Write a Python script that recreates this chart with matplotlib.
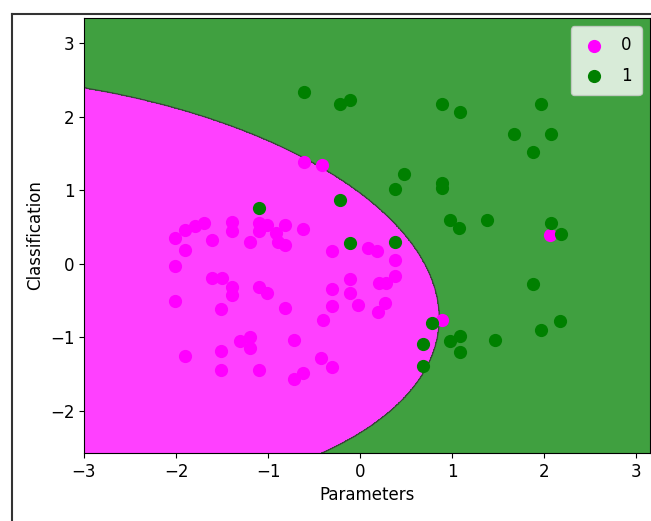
import numpy as np
import matplotlib
matplotlib.use("Agg")
import matplotlib.pyplot as plt
from matplotlib.lines import Line2D

# ---- data ----
class0_x = [-2.01, -1.90, -1.79, -1.70, -1.90, -1.61, -1.39, -1.39, -2.01, -1.20,
            -1.10, -1.01, -1.10, -0.91, -0.82, -0.89, -0.82, -0.62, -1.61, -1.50,
            -1.39, -1.39, -1.10, -1.01, -2.01, -1.51, -0.82, -1.30, -1.20, -1.20,
            -1.90, -1.51, -1.51, -1.10, -0.72, -0.72, -0.62, -0.40, -0.42, -0.31,
            -0.31, 0.09, 0.18, 0.38, 0.38, -0.11, -0.31, -0.11, 0.20, 0.28,
            -0.02, 0.27, 0.19, -0.31, 0.89, -0.61, -0.41, 2.06]
class0_y = [0.35, 0.46, 0.51, 0.55, 0.19, 0.33, 0.57, 0.44, -0.03, 0.30,
            0.55, 0.53, 0.44, 0.42, 0.53, 0.30, 0.26, 0.48, -0.19, -0.19,
            -0.31, -0.42, -0.31, -0.40, -0.51, -0.62, -0.60, -1.05, -0.99, -1.14,
            -1.25, -1.19, -1.44, -1.44, -1.03, -1.57, -1.48, -0.76, -1.28, -1.40,
            0.17, 0.21, 0.17, 0.05, -0.16, -0.20, -0.34, -0.40, -0.26, -0.26,
            -0.56, -0.53, -0.65, -0.57, -0.76, 1.39, 1.34, 0.39]

class1_x = [-1.10, -0.22, -0.11, 0.38, 0.38, 0.48, 0.89, 0.89, 0.98, 1.08,
            1.38, 2.07, 2.18, -0.61, -0.22, -0.11, 0.89, 1.09, 1.97, 1.67,
            2.07, 1.88, 1.88, 2.17, 1.97, 1.47, 0.98, 1.09, 1.09, 0.78,
            0.68, 0.68]
class1_y = [0.76, 0.87, 0.28, 0.29, 1.02, 1.22, 1.10, 1.03, 0.60, 0.49,
            0.60, 0.55, 0.41, 2.33, 2.17, 2.23, 2.17, 2.06, 2.17, 1.76,
            1.76, 1.52, -0.28, -0.78, -0.90, -1.03, -1.05, -0.98, -1.20, -0.81,
            -1.09, -1.39]

# decision boundary points
boundary_x = [-3.0, -2.1, -1.38, -0.87, -0.33, 0.11, 0.33, 0.62, 0.80, 0.84,
              0.80, 0.72, 0.54, 0.18, -0.29, -0.43]
boundary_y = [2.38, 2.18, 1.86, 1.57, 1.22, 0.87, 0.60, 0.23, -0.24, -0.55,
              -1.03, -1.39, -1.75, -2.16, -2.50, -2.57]

class_labels = ['0', '1']
class_colors = ['magenta', 'green']

# ---- figure ----
W, H = 651, 521
fig = plt.figure(figsize=(W / 100, H / 100), dpi=100)
ax = fig.add_axes([84 / W, 1 - 453 / H, (650 - 84) / W, (453 - 18) / H])

xlim = (-3.0, 3.15)
ylim = (-2.57, 3.34)

# fit a conic to the boundary points: a x^2 + b xy + c y^2 + d x + e y = 1
bx = np.array(boundary_x)
by = np.array(boundary_y)
A = np.column_stack([bx ** 2, bx * by, by ** 2, bx, by])
coef, *_ = np.linalg.lstsq(A, np.ones_like(bx), rcond=None)

X1, X2 = np.meshgrid(np.linspace(xlim[0], xlim[1], 800),
                     np.linspace(ylim[0], ylim[1], 800))
F = (coef[0] * X1 ** 2 + coef[1] * X1 * X2 + coef[2] * X2 ** 2
     + coef[3] * X1 + coef[4] * X2)
Z = np.where(F < 1, 0, 1)

ax.contourf(X1, X2, Z, levels=[-0.5, 0.5, 1.5], colors=class_colors, alpha=0.75)
ax.contour(X1, X2, F, levels=[1], colors='#3a3a3a', linewidths=0.9, alpha=0.8)

ax.scatter(class0_x, class0_y, c=class_colors[0], s=72, label=class_labels[0], zorder=3)
ax.scatter(class1_x, class1_y, c=class_colors[1], s=72, label=class_labels[1], zorder=3)

ax.set_xlim(*xlim)
ax.set_ylim(*ylim)
ax.set_xticks([-3, -2, -1, 0, 1, 2, 3])
ax.set_yticks([-2, -1, 0, 1, 2, 3])
ax.tick_params(labelsize=12)
ax.set_xlabel('Parameters', fontsize=12)
ax.set_ylabel('Classification', fontsize=12)
ax.legend(loc='upper right', fontsize=12, labelspacing=0.75, borderpad=0.6,
          handletextpad=0.8, handlelength=1.6)

# outer frame of the screenshot
fx = 12 / W
fy = 1 - 14 / H
fig.add_artist(Line2D([fx, 1], [fy, fy], transform=fig.transFigure, color='#333333', lw=1.5))
fig.add_artist(Line2D([fx, fx], [0, fy], transform=fig.transFigure, color='#333333', lw=1.5))

fig.savefig('out.png', dpi=100)
